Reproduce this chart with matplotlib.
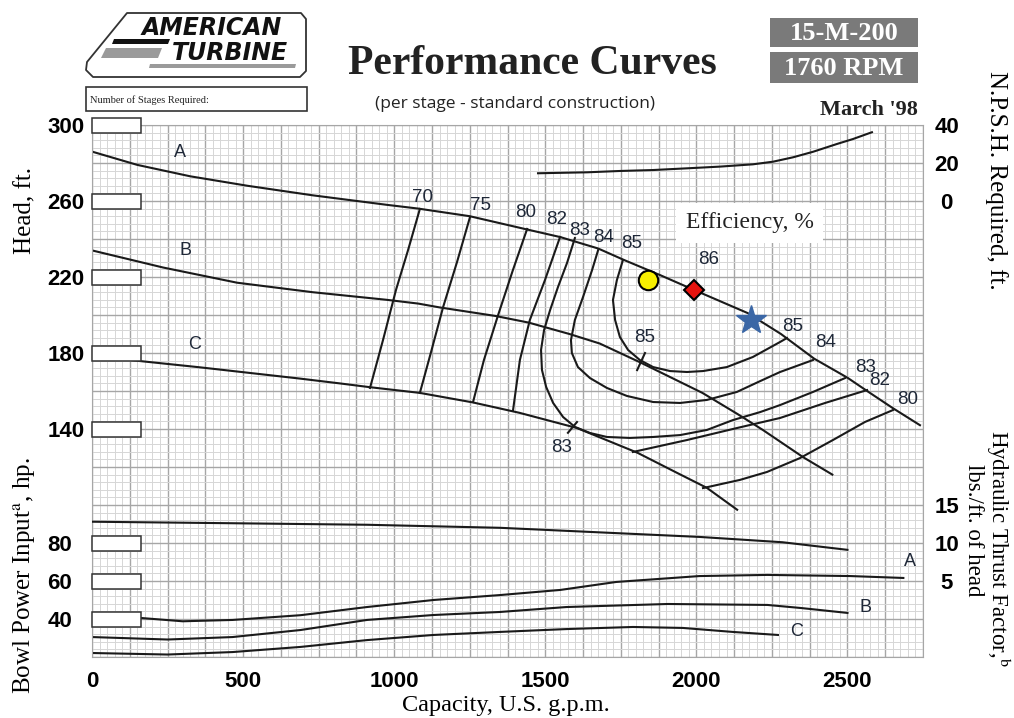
import numpy as np
import matplotlib.pyplot as plt
from matplotlib.patches import Rectangle, Polygon

plt.rcParams['mathtext.fontset'] = 'stix'
SERIF = 'Liberation Serif'
SANS = 'Liberation Sans'
INK = '#1a1a1a'
NUM = '#1f2838'

# head-capacity curves (gpm, ft)
head_a_q = [0, 150, 325, 515, 730, 975, 1080, 1250, 1440, 1550, 1675, 1760, 1880, 1995, 2170, 2280, 2390, 2500, 2565, 2650, 2740]
head_a_h = [286, 279, 273, 268, 263, 258, 256, 252, 245, 241, 235, 229, 221, 213, 201, 190, 177, 167, 160, 151, 142]
head_b_q = [0, 235, 480, 730, 975, 1080, 1150, 1335, 1445, 1580, 1680, 1815, 2020, 2135, 2220, 2355, 2450]
head_b_h = [234, 225, 217, 212, 208, 206, 204, 199.5, 196, 190, 185, 175, 159, 148, 139.5, 125, 116]
head_c_q = [0, 355, 690, 820, 920, 1085, 1260, 1415, 1605, 1805, 1935, 2035, 2135]
head_c_h = [178.4, 172.5, 166.5, 164, 162, 159, 154, 148.5, 140.5, 127.5, 117, 109, 97.5]

# N.P.S.H. required (gpm, ft)
npsh_q = [1476, 1638, 1747, 1857, 1969, 2078, 2187, 2254, 2320, 2386, 2465, 2518, 2581]
npsh_ft = [14.6, 15.1, 15.8, 16.3, 17.2, 18.1, 19.3, 20.7, 23.0, 25.9, 30.0, 32.6, 36.2]

# hydraulic thrust factor (gpm, lbs/ft)
thrust_q = [0, 465, 910, 1350, 1680, 2010, 2285, 2500]
thrust_k = [12.8, 12.6, 12.4, 12.0, 11.4, 10.8, 10.1, 9.1]

# bowl power input (gpm, hp)
bhp_a_q = [0, 165, 300, 465, 690, 910, 1130, 1350, 1550, 1735, 2010, 2235, 2510, 2685]
bhp_a = [41, 40.5, 38.8, 39.5, 42, 46.3, 50, 52.6, 55.3, 59.5, 62.6, 63.2, 62.6, 61.6]
bhp_b_q = [0, 250, 465, 690, 910, 1130, 1350, 1570, 1905, 2235, 2345, 2500]
bhp_b = [30.5, 29.2, 30.5, 34.2, 39.5, 42.1, 43.7, 46.3, 47.9, 47.4, 45.8, 43.2]
bhp_c_q = [0, 250, 465, 690, 910, 1130, 1350, 1570, 1790, 1955, 2120, 2270]
bhp_c = [22.1, 21.3, 22.6, 25.3, 28.9, 31.6, 33.2, 34.7, 35.8, 35.3, 33.2, 31.6]

# efficiency contours (gpm, ft)
eff_70 = ([1085, 1046, 1006, 963, 920], [255.8, 234.2, 213.2, 186.8, 161.6])
eff_75 = ([1251, 1208, 1162, 1122, 1085], [251.6, 227.9, 204.2, 180.5, 159])
eff_80 = ([1440, 1393, 1344, 1297, 1261], [245.3, 223.7, 200, 176.3, 154.2])
eff_82a = ([1549, 1499, 1449, 1416, 1393], [241.1, 218.4, 197.4, 176.3, 149.5])
eff_82b = ([1790, 1969, 2134, 2277, 2426, 2565], [127.9, 134.2, 140.5, 145.8, 153.7, 160.5])
eff_83 = ([1598, 1572, 1542, 1516, 1496, 1486, 1489, 1503, 1526, 1559, 1598, 1648, 1704, 1780, 1857,
           1946, 2035, 2121, 2211, 2277, 2386, 2492],
          [240.5, 227.4, 214.7, 202.6, 192.1, 181.6, 171.1, 162.1, 153.7, 146.3, 141.1, 137.9, 135.8,
           135.3, 135.8, 136.8, 139.5, 144.7, 148.9, 152.6, 159.5, 166.8])
eff_84 = ([1675, 1655, 1625, 1598, 1585, 1588, 1608, 1648, 1704, 1770, 1857, 1946, 2035, 2134, 2211,
           2277, 2386],
          [234.2, 223.7, 209.5, 197.4, 186.8, 180, 172.6, 166.8, 161.6, 157.4, 154.2, 153.7, 155.3,
           159.5, 165.2, 170, 176.3])
eff_85 = ([1757, 1737, 1724, 1731, 1747, 1774, 1813, 1857, 1913, 1969, 2022, 2101, 2187, 2277, 2300],
          [228.9, 218.4, 207.9, 197.4, 188.4, 181.6, 176.3, 172.6, 170.5, 170, 170.5, 172.6, 177.9,
           185.8, 187.9])
eff_80b = ([2022, 2144, 2234, 2343, 2452, 2558, 2651], [108.9, 113.2, 117.4, 124.7, 134.2, 143.7, 150])
tick_85 = ([1804, 1830], [171, 180])
tick_83 = ([1575, 1605], [138, 143.7])

eff_labels = ['70', '75', '80', '82', '83', '84', '85', '86', '85', '83', '85', '84', '83', '82', '80']
eff_label_q = [1095, 1287, 1436, 1539, 1615, 1694, 1787, 2039, 1830, 1555, 2320, 2429, 2561, 2608, 2700]
eff_label_h = [261.6, 257.4, 253.7, 250, 244.7, 241, 237.4, 229, 188.4, 130, 193.7, 185.3, 172.6, 165.3, 155.3]

# operating points
circle_pt = (1840, 218.4)
diamond_pt = (1992, 213.2)
star_pt = (2181, 197.4)

x_ticks = [0, 500, 1000, 1500, 2000, 2500]
head_ticks = [140, 180, 220, 260, 300]
bhp_ticks = [40, 60, 80]
npsh_ticks = [0, 20, 40]
thrust_ticks = [5, 10, 15]

W, H = 1014, 718
fig = plt.figure(figsize=(W / 100, H / 100), dpi=100)
ax = fig.add_axes([92 / W, 1 - 657 / H, 831 / W, 532 / H])
ax.set_xlim(0, 2750)
ax.set_ylim(20, 300)

# graph paper grid
ax.set_xticks(np.arange(0, 2751, 125))
ax.set_xticks(np.arange(0, 2751, 25), minor=True)
ax.set_yticks(np.arange(20, 301, 20))
ax.set_yticks(np.arange(20, 301, 4), minor=True)
ax.grid(which='minor', color='#d6d6d6', lw=0.7)
ax.grid(which='major', color='#a6a6a6', lw=1.0)
ax.set_axisbelow(True)
ax.set_xticklabels([str(int(v)) if int(v) in x_ticks else '' for v in np.arange(0, 2751, 125)])
ax.set_yticklabels([str(int(v)) if int(v) in head_ticks + bhp_ticks else '' for v in np.arange(20, 301, 20)])
ax.tick_params(which='both', length=0)
ax.tick_params(axis='x', pad=10)
ax.tick_params(axis='y', pad=32)
for lab in ax.get_xticklabels() + ax.get_yticklabels():
    lab.set_fontfamily(SANS)
    lab.set_fontweight('bold')
    lab.set_fontsize(16)
for lab in ax.get_yticklabels():
    lab.set_horizontalalignment('left')
for s in ax.spines.values():
    s.set_color('#a6a6a6')

lw = 1.5
for q, h in [(head_a_q, head_a_h), (head_b_q, head_b_h), (head_c_q, head_c_h),
             (bhp_a_q, bhp_a), (bhp_b_q, bhp_b), (bhp_c_q, bhp_c)]:
    ax.plot(q, h, color=INK, lw=lw, solid_joinstyle='round')
for q, h in [eff_70, eff_75, eff_80, eff_82a, eff_82b, eff_83, eff_84, eff_85, eff_80b, tick_85, tick_83]:
    ax.plot(q, h, color=INK, lw=lw, solid_joinstyle='round')

for t, q, h in zip(eff_labels, eff_label_q, eff_label_h):
    ax.text(q, h, t, ha='center', va='center', fontsize=13.5, family=SANS, color=NUM)

for t, q, h in [('A', 291, 285.3), ('B', 308, 233.7), ('C', 338, 184.7),
                ('A', 2707, 70), ('B', 2561, 46.3), ('C', 2333, 33.2)]:
    ax.text(q, h, t, ha='center', va='center', fontsize=13, family=SANS, color=NUM)

ax.text(2177, 248.5, 'Efficiency, %', ha='center', va='center', fontsize=17, family=SERIF,
        color='#222222', bbox=dict(facecolor='white', edgecolor='none', pad=7))

ax.plot(*circle_pt, 'o', ms=14, mfc='#f7ef00', mec='black', mew=1.5, zorder=5)
ax.plot(*diamond_pt, 'D', ms=10, mfc='#e8140f', mec='black', mew=1.5, zorder=5)
ax.plot(*star_pt, '*', ms=22, mfc='#3b67a6', mec='#3b67a6', zorder=5)

# blank boxes beside the left scale
for v in head_ticks + bhp_ticks:
    ax.add_patch(Rectangle((0, v - 4.3), 162, 8.2, facecolor='white', edgecolor='#333333',
                           lw=1.1, zorder=6, clip_on=False))

# right scales
axn = ax.twinx()
axn.set_ylim(-240, 40)
axn.plot(npsh_q, npsh_ft, color=INK, lw=lw)
axt = ax.twinx()
axt.set_ylim(-5, 65)
axt.plot(thrust_q, thrust_k, color=INK, lw=lw)
for a, ticks in [(axn, npsh_ticks), (axt, thrust_ticks)]:
    a.set_yticks(ticks)
    a.set_yticklabels([str(t) for t in ticks])
    a.tick_params(length=0, pad=17)
    for lab in a.get_yticklabels():
        lab.set_fontfamily(SANS)
        lab.set_fontweight('bold')
        lab.set_fontsize(16)
        lab.set_horizontalalignment('center')
    for s in a.spines.values():
        s.set_visible(False)


def fx(x):
    return x / W


def fy(y):
    return 1 - y / H


# axis titles
fig.text(fx(25), fy(210), 'Head, ft.', rotation=90, ha='center', va='center', family=SERIF, fontsize=18)
fig.text(fx(25), fy(576), 'Bowl Power Input$^{\\mathrm{a}}$, hp.', rotation=90, ha='center', va='center',
         family=SERIF, fontsize=18)
fig.text(fx(996), fy(180), 'N.P.S.H. Required, ft.', rotation=270, ha='center', va='center',
         family=SERIF, fontsize=18)
fig.text(fx(998), fy(548), 'Hydraulic Thrust Factor,$^{\\mathrm{b}}$', rotation=270, ha='center', va='center',
         family=SERIF, fontsize=16.5)
fig.text(fx(973), fy(530), 'lbs./ft. of head', rotation=270, ha='center', va='center',
         family=SERIF, fontsize=16.5)
fig.text(fx(506), fy(705), 'Capacity, U.S. g.p.m.', ha='center', va='center', family=SERIF, fontsize=17.5)

# header
fig.text(fx(532), fy(64), 'Performance Curves', ha='center', va='center', family=SERIF,
         fontweight='bold', fontsize=30, color='#222222')
fig.text(fx(515), fy(104), '(per stage - standard construction)', ha='center', va='center',
         family='Open Sans', fontsize=12.5, color='#222222')
fig.text(fx(918), fy(110), "March '98", ha='right', va='center', family=SERIF, fontweight='bold',
         fontsize=16, color='#222222')
for t, y0, y1 in [('15-M-200', 18, 47), ('1760 RPM', 52, 83)]:
    fig.patches.append(Rectangle((fx(770), fy(y1)), (918 - 770) / W, (y1 - y0) / H,
                                 transform=fig.transFigure, facecolor='#7a7a7a', edgecolor='none'))
    fig.text(fx(844), fy((y0 + y1) / 2 + 1), t, ha='center', va='center', family=SERIF,
             fontweight='bold', fontsize=19, color='white')

# stages box
fig.patches.append(Rectangle((fx(86), fy(111)), (307 - 86) / W, 24 / H, transform=fig.transFigure,
                             facecolor='white', edgecolor='#333333', lw=1.2))
fig.text(fx(90), fy(100), 'Number of Stages Required:', ha='left', va='center', family=SERIF,
         fontsize=7.5, color='#222222')

# logo
logo = [(127, 13), (301, 13), (306, 19), (306, 71), (300, 77), (93, 77), (86, 70), (87, 62)]
fig.patches.append(Polygon([(fx(x), fy(y)) for x, y in logo], closed=True, transform=fig.transFigure,
                           facecolor='white', edgecolor='#333333', lw=1.3, joinstyle='round'))
fig.patches.append(Polygon([(fx(x), fy(y)) for x, y in [(106, 48), (162, 48), (158, 58), (101, 58)]],
                           closed=True, transform=fig.transFigure, facecolor='#9a9a9a', edgecolor='none'))
fig.patches.append(Polygon([(fx(x), fy(y)) for x, y in [(114, 39), (170, 39), (168, 44), (112, 44)]],
                           closed=True, transform=fig.transFigure, facecolor='#111111', edgecolor='none'))
fig.patches.append(Polygon([(fx(x), fy(y)) for x, y in [(150, 64), (296, 64), (295, 68), (149, 68)]],
                           closed=True, transform=fig.transFigure, facecolor='#9a9a9a', edgecolor='none'))
fig.text(fx(212), fy(28), 'AMERICAN', ha='center', va='center', family='DejaVu Sans', fontweight='bold',
         style='italic', fontsize=17, color='#111111')
fig.text(fx(230), fy(53), 'TURBINE', ha='center', va='center', family='DejaVu Sans', fontweight='bold',
         style='italic', fontsize=17, color='#111111')

fig.savefig('out.png', dpi=100)
